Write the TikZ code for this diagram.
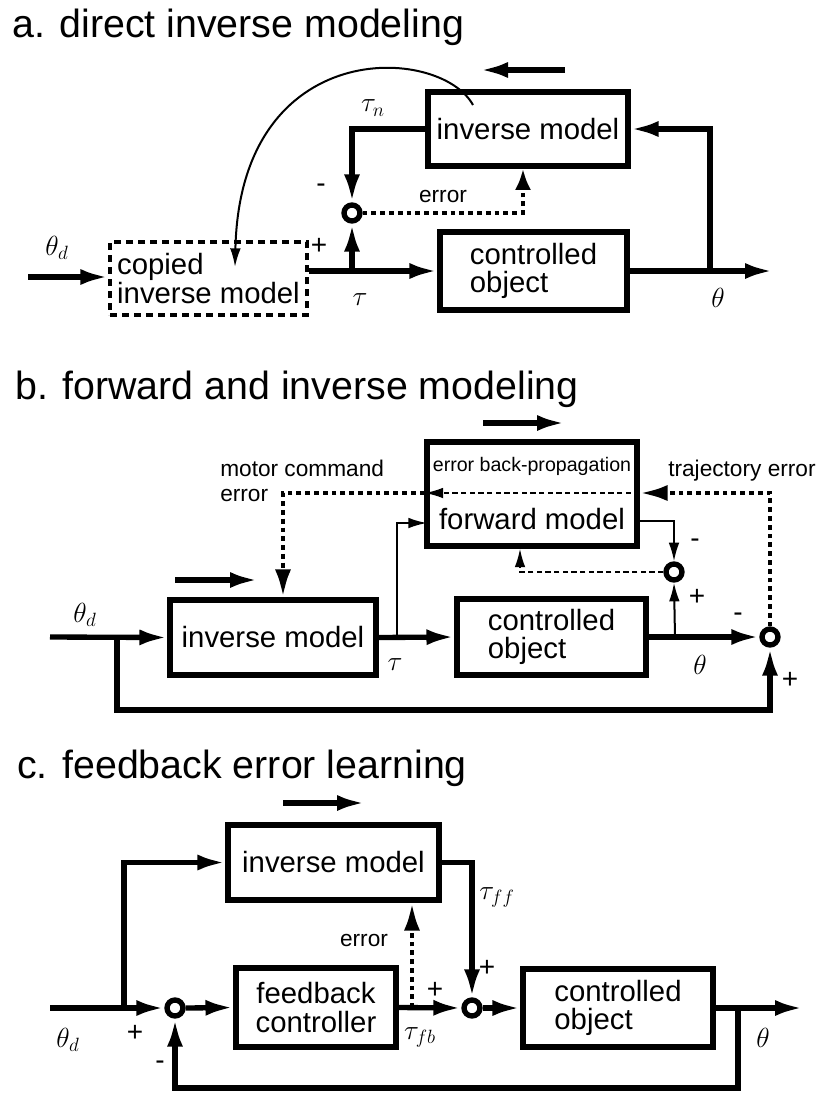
\documentclass[tikz,border=0pt]{standalone}
\usepackage{fontspec}
\setmainfont{Liberation Sans}
\usetikzlibrary{arrows.meta}
\begin{document}
\begin{tikzpicture}[x=0.75pt,y=-0.75pt,
  thickln/.style={line width=4pt},
  thinln/.style={line width=1.5pt},
  arr/.style={-{Latex[length=21pt,width=12pt]}},
  marr/.style={-{Latex[length=16pt,width=12pt]}},
  sarr/.style={-{Latex[length=14pt,width=8pt]}},
  box/.style={draw,line width=3.8pt,inner sep=0pt,align=left,font=\fontsize{22}{21.5}\selectfont},
  cbox/.style={box,align=center},
  dbox/.style={draw,line width=2.4pt,dash pattern=on 5pt off 4pt,inner sep=0pt,align=left,font=\fontsize{22}{21.5}\selectfont},
  sumc/.style={circle,draw,line width=4pt,minimum size=12pt,inner sep=0pt},
  dotln/.style={line width=3.6pt,dash pattern=on 3.6pt off 3pt},
  dashln/.style={line width=1.5pt,dash pattern=on 4pt off 2.5pt},
  ttl/.style={font=\fontsize{29.5}{31}\selectfont,anchor=base west,inner sep=0pt},
  lbl/.style={font=\fontsize{17}{19}\selectfont,inner sep=0pt},
  lblw/.style={lbl,anchor=base west},
  sgn/.style={font=\fontsize{21}{21}\selectfont,inner sep=0pt},
  mth/.style={font=\fontsize{21}{21}\selectfont,inner sep=0pt},
]
\fill[white] (0,0) rectangle (819,1093);
\useasboundingbox (0,0) rectangle (819,1093);

% ---------------- panel a ----------------
\node[ttl] (ta) at (12,37) {a. direct inverse modeling};
\node[dbox,minimum width=147.75pt,minimum height=54.75pt] (cib) at (208.5,278.5) {copied\\inverse model};
\node[box,minimum width=140.25pt,minimum height=58.5pt] (coa) at (533.5,271) {controlled\\object};
\node[box,minimum width=150pt,minimum height=55.5pt] (ima) at (528,129) {inverse model};
\node[sumc] (sa) at (352,213) {};
\coordinate (ina) at (28,277);
\coordinate (ja) at (352,271);
\coordinate (ka) at (710,271);
\coordinate (oa) at (773,271);
\coordinate (ea) at (523,213);
\coordinate (la1) at (565,70);
\coordinate (la2) at (480,70);
\coordinate (ca) at (473,105);
\coordinate (cb) at (235,267);
\draw[thickln,arr] (ina) -- (ina -| cib.west);
\draw[thickln,arr] (cib.east |- ja) -- (coa.west);
\draw[thickln,arr] (ja) -- (sa.south);
\draw[thickln,arr] (coa.east) -- (oa);
\draw[thickln,arr] (ka) -- (ka |- ima.east) -- (ima.east);
\draw[thickln,arr] (ima.west) -| (sa.north);
\draw[dotln,marr] (sa.east) -- (ea) -- (ea |- ima.south);
\draw[thickln,arr] (la1) -- (la2);
\draw[thinln,sarr] (ca) .. controls (440,45) and (240,35) .. (cb);
\node[mth] (lthda) at (57,248) {$\theta_d$};
\node[sgn] (pa) at (319,246) {+};
\node[sgn] (ma) at (321,188) {-};
\node[mth] (ltna) at (373,108) {$\tau_n$};
\node[mth] (lta) at (360,300) {$\tau$};
\node[lbl] (era) at (443,197) {error};
\node[mth] (ltha) at (718,298) {$\theta$};

% ---------------- panel b ----------------
\node[ttl] (tb) at (15,399) {b. forward and inverse modeling};
\node[box,minimum width=154.5pt,minimum height=56.25pt] (imb) at (273,637.5) {inverse model};
\node[box,minimum width=141.75pt,minimum height=57pt] (cob) at (551.5,637) {controlled\\object};
\node[box,minimum width=157.5pt,minimum height=78pt] (fmb) at (532,494) {};
\node[font=\fontsize{14.7}{16}\selectfont,inner sep=0pt] (ebp) at (532,466) {error back-propagation};
\node[font=\fontsize{22}{22}\selectfont,inner sep=0pt] (fmt) at (532,519) {forward model};
\node[sumc] (sb1) at (674,572) {};
\node[sumc] (sb2) at (770,637) {};
\coordinate (inb) at (50,637);
\coordinate (jb) at (117,637);
\coordinate (bb) at (117,710);
\coordinate (tbr) at (397,637);
\coordinate (fmi) at (427,523);
\coordinate (fmo) at (637,521);
\coordinate (kb) at (675,637);
\coordinate (db) at (520,572);
\coordinate (te) at (770,493);
\coordinate (me) at (283,493);
\draw[thickln,arr] (inb) -- (imb.west);
\draw[thickln,arr] (imb.east) -- (cob.west);
\draw[thickln,arr] (cob.east) -- (sb2.west);
\draw[thickln,arr] (jb) -- (bb) -| (sb2.south);
\draw[thinln,sarr] (tbr) |- (fmi);
\draw[thinln,sarr] (fmo) -| (sb1.north);
\draw[thinln,sarr] (kb) -- (sb1.south);
\draw[dashln,sarr] (sb1.west) -- (db) -- (db |- fmb.south);
\draw[dotln,arr] (sb2.north) -- (te) -- (te -| fmb.east);
\draw[dashln,sarr] (te -| fmb.east) -- (te -| fmb.west);
\draw[dotln,arr] (te -| fmb.west) -- (me) -- (me |- imb.north);
\draw[thickln,arr] (483,423) coordinate (lb1) -- (565,423) coordinate (lb2);
\draw[thickln,arr] (175,580) coordinate (lb3) -- (258,580) coordinate (lb4);
\node[mth] (lthdb) at (85,615) {$\theta_d$};
\node[mth] (ltb) at (395,665) {$\tau$};
\node[mth] (lthb) at (700,665) {$\theta$};
\node[sgn] (mb2) at (738,617) {-};
\node[sgn] (pb2) at (790,680) {+};
\node[sgn] (mb1) at (695,543) {-};
\node[sgn] (pb1) at (697,597) {+};
\node[lblw] (mce1) at (220,476) {motor command};
\node[lblw] (mce2) at (220,501) {error};
\node[lblw] (tre) at (668,476) {trajectory error};

% ---------------- panel c ----------------
\node[ttl] (tc) at (17,778) {c. feedback error learning};
\node[box,minimum width=158.25pt,minimum height=56.25pt] (imc) at (333.5,862.5) {inverse model};
\node[cbox,minimum width=120pt,minimum height=59.25pt] (fbc) at (316,1007.5) {feedback\\controller};
\node[box,minimum width=142.5pt,minimum height=58.5pt] (coc) at (618,1008) {controlled\\object};
\node[sumc] (sc1) at (175,1008) {};
\node[sumc] (sc2) at (472,1008) {};
\coordinate (inc) at (50,1008);
\coordinate (jc) at (124,1008);
\coordinate (kc) at (738,1008);
\coordinate (oc) at (803,1008);
\coordinate (bc) at (738,1088);
\coordinate (ec) at (412,1008);
\draw[thickln,arr] (inc) -- (sc1.west);
\draw[thickln,arr] (jc) |- (imc.west);
\draw[thickln,arr] (sc1.east) -- (fbc.west);
\draw[thickln,arr] (fbc.east) -- (sc2.west);
\draw[thickln,arr] (imc.east) -| (sc2.north);
\draw[thickln,arr] (sc2.east) -- (coc.west);
\draw[thickln,arr] (coc.east) -- (oc);
\draw[thickln,arr] (kc) -- (bc) -| (sc1.south);
\draw[dotln,arr] (ec) -- (ec |- imc.south);
\draw[thickln,arr] (283,803) coordinate (lc1) -- (365,803) coordinate (lc2);
\node[mth] (lthdc) at (68,1040) {$\theta_d$};
\node[sgn] (pc1) at (135,1033) {+};
\node[sgn] (mc1) at (160,1065) {-};
\node[lbl] (erc) at (364,940) {error};
\node[mth] (ltfb) at (420,1037) {$\tau_{fb}$};
\node[sgn] (pc2) at (435,990) {+};
\node[mth] (ltff) at (497,897) {$\tau_{ff}$};
\node[sgn] (pc3) at (487,968) {+};
\node[mth] (lthc) at (763,1038) {$\theta$};
\end{tikzpicture}
\end{document}
